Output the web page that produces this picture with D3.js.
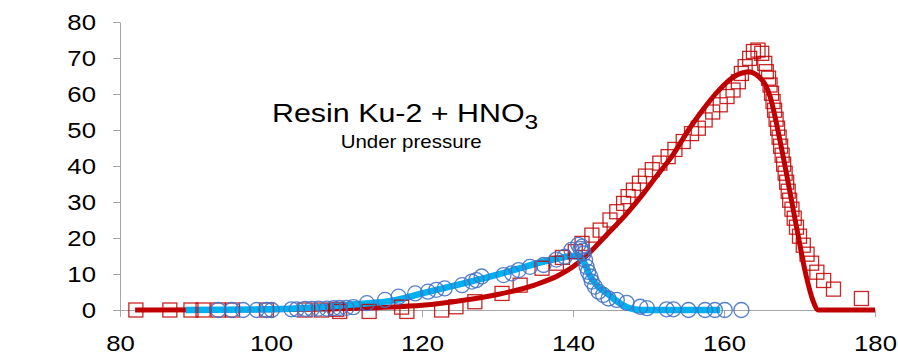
<!DOCTYPE html>
<html>
<head>
  <meta charset="utf-8">
  <script src="https://d3js.org/d3.v7.min.js"></script>
  <style>
    body { margin: 0; background: #fff; }
    svg { display: block; font-family: "Liberation Sans", Arial, sans-serif; }
    .axis path, .axis line { stroke: #a6a6a6; stroke-width: 1; }
    .axis text { fill: #000; font-size: 22px; }
  </style>
</head>
<body>
<script>
  /* Red squares: measured points */
  var squareX = [82.1, 86.6, 89.4, 91.0, 93.0, 94.9, 99.4, 104.5, 106.7, 108.7, 109.1, 113.0, 117.3, 118.0,
                 122.6, 124.5, 127.0, 130.6, 133.0, 135.9, 137.8, 138.6, 140.3, 141.2, 142.5, 143.6, 144.9,
                 145.8, 146.7, 147.3, 148.0, 148.8, 149.6, 150.5, 151.5, 152.6, 153.5, 154.6, 155.7, 156.6,
                 157.5, 158.5, 159.5, 160.4, 161.2, 161.9, 162.3, 162.8, 163.4, 163.9, 164.5, 165.0, 165.4,
                 165.6, 165.9, 166.1, 166.3, 166.5, 166.7, 166.9, 167.1, 167.3, 167.5, 167.7, 167.9, 168.1,
                 168.3, 168.5, 168.7, 169.0, 169.3, 169.6, 170.0, 170.5, 171.0, 171.6, 172.3, 173.2, 174.5, 178.2];
  var squareY = [0, 0, 0, 0, 0, 0, 0, 0, 0, 0.2, -0.4, -0.4, 0.8, -0.4,
                 0, 0.9, 2.3, 4.6, 6.9, 11.6, 13.0, 14.6, 16.2, 18.5, 20.8, 22.2, 25.0,
                 27.3, 29.6, 31.5, 33.3, 35.2, 37.2, 39.0, 40.8, 42.6, 44.6, 46.8, 49.0, 50.5,
                 52.8, 55.0, 57.0, 59.3, 61.1, 63.4, 65.7, 67.6, 69.9, 71.8, 72.2, 71.3, 68.5,
                 66.2, 64.4, 62.5, 60.2, 57.9, 55.5, 53.0, 50.5, 48.0, 45.5, 43.0, 40.5, 38.0,
                 35.5, 33.0, 30.5, 28.0, 25.5, 23.0, 20.5, 18.0, 15.5, 13.0, 10.5, 8.2, 5.8, 3.2];

  /* Blue circles: measured points */
  var circleX = [93.0, 94.8, 96.3, 98.1, 99.4, 100.1, 102.7, 103.4, 104.5, 105.4, 106.3, 107.4, 108.3,
                 109.1, 110.0, 110.9, 112.7, 115.1, 116.9, 119.1, 120.8, 121.9, 123.0, 125.3, 126.6,
                 127.2, 127.9, 130.8, 131.9, 132.8, 134.3, 136.1, 137.8, 138.9, 139.8, 140.7, 141.0,
                 141.2, 141.3, 141.4, 141.6, 141.8, 142.0, 142.3, 142.5, 142.9, 143.4, 144.0, 144.7,
                 145.8, 147.1, 148.9, 149.8, 152.4, 153.3, 155.3, 157.5, 158.8, 160.1, 162.3];
  var circleY = [0, 0, 0, 0, 0, 0, 0.2, 0.2, 0.3, 0.3, 0.4, 0.4, 0.5,
                 0.6, 0.6, 0.8, 1.9, 2.8, 3.7, 4.6, 5.1, 5.6, 6.0, 6.9, 7.9,
                 8.3, 9.3, 9.7, 10.2, 11.1, 12.0, 12.5, 14.0, 14.8, 16.7, 18.1, 17.0,
                 17.6, 16.5, 15.7, 13.9, 12.0, 10.6, 9.3, 7.9, 6.5, 5.1, 4.2, 3.2,
                 2.8, 2.0, 0.9, 0.5, 0.2, 0.2, 0, 0, 0, 0, 0];

  /* Fitted curves */
  var redFitX = [82, 100, 110, 116, 120, 125.5, 130, 135, 138, 140, 142, 144.5, 147, 149, 151, 153.3,
                 155.3, 157.3, 159.3, 161.2, 162.3, 163.2, 164.5, 165.5, 166.1, 167.4, 168.1, 169.6, 170.9, 171.8, 172.5, 180];
  var redFitY = [0, 0.1, 0.4, 0.8, 1.3, 2.7, 4.3, 7.0, 9.5, 12, 15.5, 21, 26.5, 31.5, 37, 43.3,
                 50.0, 55.9, 61.0, 64.6, 65.8, 66.2, 65.0, 62.5, 59.3, 47.2, 39.8, 23.1, 9.3, 2.5, 0, 0];

  var blueFitX = [88.7, 100, 105, 110, 116.6, 120, 125.5, 130, 133, 135.6, 138, 140, 140.8, 141.5,
                  142.3, 143.3, 144.5, 146.2, 147.5, 149, 159.5];
  var blueFitY = [0, 0.2, 0.6, 1.4, 2.8, 4.6, 7.4, 9.8, 11.6, 13.2, 14.3, 15.0, 14.8, 13.0,
                  9.3, 6.5, 4.6, 1.9, 0.5, 0, 0];

  var xTicks = [80, 100, 120, 140, 160, 180];
  var yTicks = [0, 10, 20, 30, 40, 50, 60, 70, 80];

  var stretch = 1.17;   // text in the picture is a little wide

  var svg = d3.select("body").append("svg")
      .attr("width", 898)
      .attr("height", 355);

  var x = d3.scaleLinear().domain([80, 180]).range([120, 875]);
  var y = d3.scaleLinear().domain([0, 80]).range([310, 22]);

  /* axes */
  var gx = svg.append("g")
      .attr("class", "axis")
      .attr("transform", "translate(0,310)")
      .call(d3.axisBottom(x).tickValues(xTicks).tickSize(7).tickSizeOuter(0).tickPadding(18));
  gx.selectAll("text").attr("transform", "scale(" + stretch + ",1)");

  var gy = svg.append("g")
      .attr("class", "axis")
      .attr("transform", "translate(120,0)")
      .call(d3.axisLeft(y).tickValues(yTicks).tickSize(7).tickSizeOuter(0).tickPadding(17));
  gy.selectAll("text")
      .attr("x", -24 / stretch)
      .attr("transform", "scale(" + stretch + ",1)");

  /* fitted lines */
  var redLine = d3.line()
      .x(function (d, i) { return x(redFitX[i]); })
      .y(function (d, i) { return y(redFitY[i]); })
      .curve(d3.curveMonotoneX);
  var blueLine = d3.line()
      .x(function (d, i) { return x(blueFitX[i]); })
      .y(function (d, i) { return y(blueFitY[i]); })
      .curve(d3.curveMonotoneX);

  svg.append("path")
      .attr("d", redLine(redFitX))
      .attr("fill", "none")
      .attr("stroke", "#c00000")
      .attr("stroke-width", 5)
      .attr("stroke-linejoin", "round");

  svg.append("path")
      .attr("d", blueLine(blueFitX))
      .attr("fill", "none")
      .attr("stroke", "#00b0f0")
      .attr("stroke-width", 6.5)
      .attr("stroke-linejoin", "round");

  /* markers */
  svg.append("g").selectAll("rect")
      .data(squareX)
      .enter()
      .append("rect")
        .attr("x", function (d) { return x(d) - 7; })
        .attr("y", function (d, i) { return y(squareY[i]) - 7; })
        .attr("width", 14)
        .attr("height", 14)
        .attr("fill", "none")
        .attr("stroke", "#c00000")
        .attr("stroke-opacity", 0.85)
        .attr("stroke-width", 1.3);

  svg.append("g").selectAll("circle")
      .data(circleX)
      .enter()
      .append("circle")
        .attr("cx", function (d) { return x(d); })
        .attr("cy", function (d, i) { return y(circleY[i]); })
        .attr("r", 7.5)
        .attr("fill", "none")
        .attr("stroke", "#4472c4")
        .attr("stroke-opacity", 0.9)
        .attr("stroke-width", 1.3);

  /* title */
  var title = svg.append("text")
      .attr("transform", "translate(272,121.7) scale(" + stretch + ",1)")
      .style("font-size", "26px")
      .attr("fill", "#000");
  title.append("tspan").text("Resin Ku-2 + HNO");
  title.append("tspan")
      .attr("dy", 7)
      .style("font-size", "21px")
      .text("3");

  svg.append("text")
      .attr("transform", "translate(340.7,148.3) scale(" + stretch + ",1)")
      .style("font-size", "17.5px")
      .attr("fill", "#000")
      .text("Under pressure");
</script>
</body>
</html>
